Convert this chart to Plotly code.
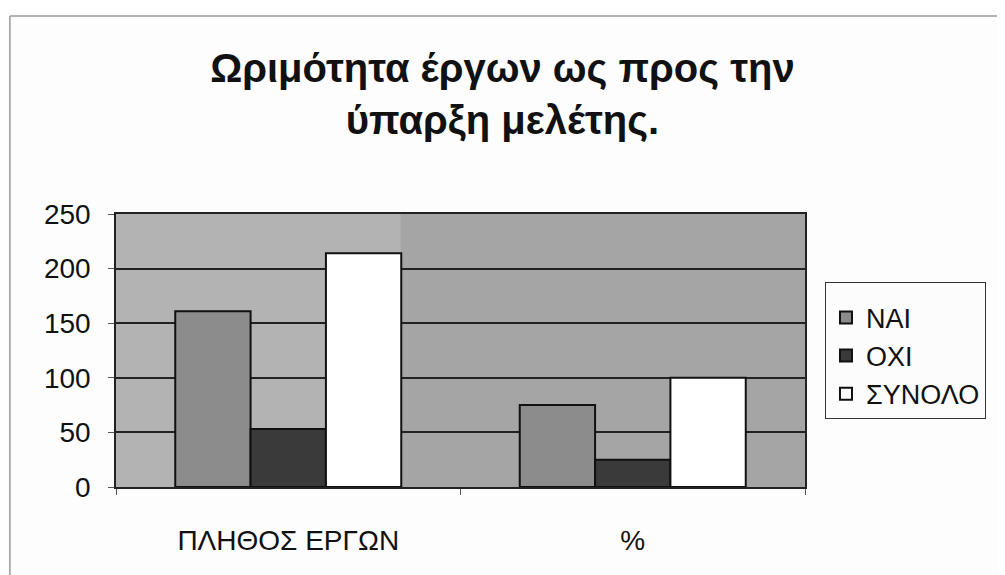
import plotly.graph_objects as go

categories = ["ΠΛΗΘΟΣ ΕΡΓΩΝ", "%"]
series_names = ["ΝΑΙ", "ΟΧΙ", "ΣΥΝΟΛΟ"]
nai = [161, 75]
oxi = [53, 25]
synolo = [214, 100]
y_ticks = [0, 50, 100, 150, 200, 250]

title_text = "Ωριμότητα έργων ως προς την<br>ύπαρξη μελέτης."

colors = ["#8c8c8c", "#3a3a3a", "#ffffff"]
values = [nai, oxi, synolo]

fig = go.Figure()
for name, vals, col in zip(series_names, values, colors):
    fig.add_trace(go.Bar(
        x=categories, y=vals, name=name,
        marker=dict(color=col, line=dict(color="#111111", width=2)),
    ))

font_family = "Liberation Sans, Arial, sans-serif"

fig.update_layout(
    width=1005, height=575,
    margin=dict(l=108, r=208, t=206, b=96),
    paper_bgcolor="#fdfdfd",
    plot_bgcolor="#a5a5a5",
    barmode="group",
    bargap=0.344,
    bargroupgap=0,
    font=dict(family=font_family, color="#111111"),
    title=dict(
        text=title_text,
        x=0.492, xanchor="center",
        y=1 - 74 / 575, yanchor="top",
        font=dict(family=font_family, size=40, color="#111111", weight="bold"),
    ),
    legend=dict(
        x=1.029, y=0.751, xanchor="left", yanchor="top",
        bordercolor="#333333", borderwidth=1, bgcolor="#fcfcfc",
        font=dict(size=27, family=font_family, color="#111111"),
        traceorder="normal",
        title=dict(text="&nbsp;", font=dict(size=8)),
    ),
    showlegend=True,
)

fig.update_yaxes(
    range=[0, 250], tickvals=y_ticks,
    showgrid=True, gridcolor="#222222", gridwidth=1.5,
    showline=True, linecolor="#222222", linewidth=1.5, mirror=True,
    ticks="outside", ticklen=6, tickcolor="#555555",
    tickfont=dict(size=28, family=font_family, color="#111111"),
    ticklabelstandoff=12,
    zeroline=False,
)
fig.update_xaxes(
    showline=True, linecolor="#222222", linewidth=1.5, mirror=True,
    ticks="outside", ticklen=6, tickson="boundaries", tickcolor="#555555",
    tickfont=dict(size=28, family=font_family, color="#111111"),
    ticklabelstandoff=28,
)

# lighter background band on the left half of the plot area
fig.add_shape(type="rect", xref="x domain", yref="y domain",
              x0=0, x1=0.413, y0=0, y1=1, layer="below",
              fillcolor="#b3b3b3", line=dict(width=0))
# outer chart frame (top and left edges)
fig.add_shape(type="line", xref="paper", yref="paper",
              x0=-0.154, x1=1.3, y0=1.725, y1=1.725,
              line=dict(color="#9a9a9a", width=1.5))
fig.add_shape(type="line", xref="paper", yref="paper",
              x0=-0.154, x1=-0.154, y0=-0.33, y1=1.725,
              line=dict(color="#9a9a9a", width=1.5))

fig.write_html("out.html")
